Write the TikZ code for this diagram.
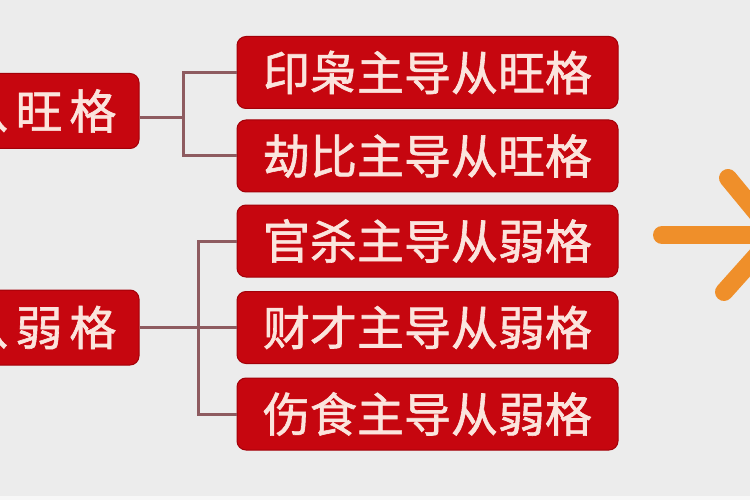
\documentclass[tikz,border=0pt]{standalone}
\usepackage{fontspec}
\newfontfamily\cjk[FakeBold=1.3]{Noto Sans CJK SC}
\definecolor{bgc}{HTML}{ECECEC}
\definecolor{boxred}{HTML}{C6060F}
\definecolor{boxedge}{HTML}{A30008}
\definecolor{txtc}{HTML}{FBE4DD}
\definecolor{linec}{HTML}{8E5B60}
\definecolor{arrowc}{HTML}{EF8F2A}
\tikzset{
  redbox/.style={fill=boxred, draw=boxedge, line width=1pt, rounded corners=9pt,
    text=txtc, inner sep=0pt, font=\cjk\fontsize{47}{47}\selectfont},
  rightbox/.style={redbox, minimum width=381pt, minimum height=72pt},
  leftbox/.style={redbox, minimum width=200pt, minimum height=75pt},
  conn/.style={draw=linec, line width=3pt},
  arrowline/.style={draw=arrowc, line width=18pt, line cap=round, line join=round}
}
\begin{document}
\begin{tikzpicture}[x=1pt,y=-1pt]
\useasboundingbox (0,0) rectangle (750,500);
\clip (0,0) rectangle (750,500);
\fill[bgc] (0,0) rectangle (750,500);
\fill[white!60!bgc] (0,496) rectangle (750,500);

% right boxes
\node[rightbox] (R1) at (427.5,72.5) {印枭主导从旺格};
\node[rightbox] (R2) at (427.5,156) {劫比主导从旺格};
\node[rightbox] (R3) at (427.5,241) {官杀主导从弱格};
\node[rightbox] (R4) at (427.5,327.5) {财才主导从弱格};
\node[rightbox] (R5) at (427.5,414) {伤食主导从弱格};

% left boxes (cut by the left edge, as in the reference)
\node[leftbox] (L1) at (39,111) {从\hspace{7pt}旺\hspace{7pt}格};
\node[leftbox] (L2) at (39,327.5) {从\hspace{7pt}弱\hspace{7pt}格};

% connectors
\coordinate (b1) at (183,118);
\coordinate (b2) at (198,327.5);
\draw[conn] (L1.east |- b1) -- (b1);
\draw[conn] (R1.west) -| (b1);
\draw[conn] (R2.west) -| (b1);
\draw[conn] (L2.east |- b2) -- (b2);
\draw[conn] (R3.west) -| (b2);
\draw[conn] (R4.west) -- (b2);
\draw[conn] (R5.west) -| (b2);

% orange arrow, cut by the right edge
\coordinate (atail) at (662,235);
\coordinate (atip) at (775,235);
\coordinate (aup) at (728,178);
\coordinate (alow) at (724,292);
\draw[arrowline] (atail) -- (atip);
\draw[arrowline] (aup) -- (atip) -- (alow);
\end{tikzpicture}
\end{document}
